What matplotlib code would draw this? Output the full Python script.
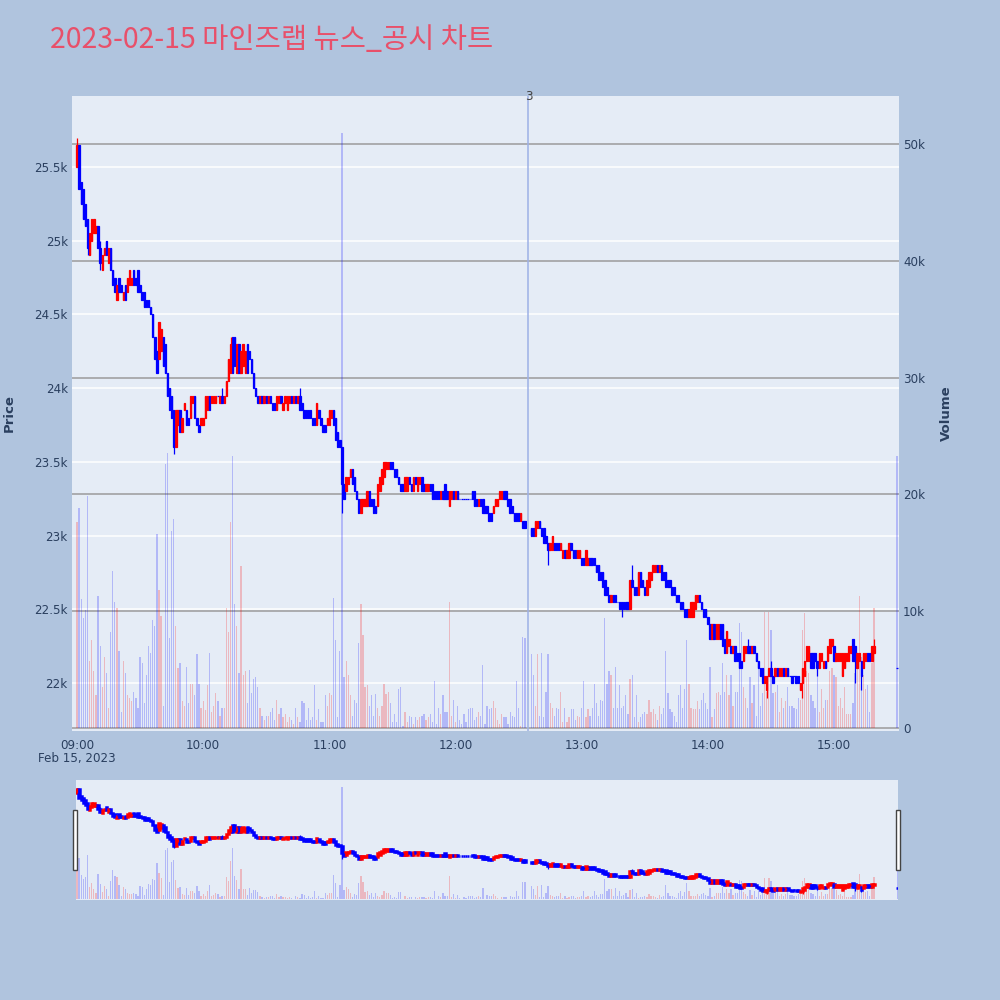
import numpy as np
import pandas as pd
import matplotlib
matplotlib.use("Agg")
import matplotlib.pyplot as plt
import matplotlib.dates as mdates
from matplotlib.patches import Rectangle
from matplotlib.transforms import blended_transform_factory

plt.rcParams["font.family"] = ["DejaVu Sans"]

title = "2023-02-15 마인즈랩 뉴스_공시 차트"
news_time = pd.Timestamp("2023-02-15 12:34:40")
news_label = "3"

# 1-minute bars, 09:00-15:19 (no trades 12:34-12:35) + closing auction 15:30
times = pd.date_range("2023-02-15 09:00", "2023-02-15 15:19", freq="min")
times = times.drop(pd.to_datetime(["2023-02-15 12:34", "2023-02-15 12:35"]))
times = times.append(pd.DatetimeIndex(["2023-02-15 15:30"]))

opens = [
    25500, 25650, 25400, 25350, 25250, 25150, 24900, 25000, 25050, 25050,  # 09:00
    25100, 24950, 24800, 24900, 25000, 24850, 24950, 24800, 24750, 24600,
    24750, 24700, 24600, 24700, 24650, 24700, 24700, 24800, 24750, 24800,
    24700, 24650, 24650, 24600, 24600, 24550, 24500, 24350, 24250, 24200,
    24250, 24350, 24300, 24100, 24000, 23950, 23850, 23600, 23750, 23850,
    23700, 23850, 23850, 23800, 23800, 23900, 23950, 23800, 23750, 23750,  # 09:50
    23750, 23800, 23850, 23950, 23900, 23900, 23900, 23950, 23900, 23950,
    23900, 23950, 24050, 24100, 24350, 24350, 24100, 24300, 24100, 24150,
    24100, 24300, 24250, 24200, 24100, 24000, 23950, 23900, 23950, 23900,
    23950, 23900, 23950, 23900, 23900, 23850, 23900, 23950, 23850, 23900,
    23850, 23900, 23950, 23900, 23950, 23900, 23950, 23900, 23850, 23850,  # 10:40
    23850, 23850, 23800, 23800, 23750, 23850, 23800, 23750, 23750, 23750,
    23750, 23800, 23850, 23800, 23700, 23650, 23600, 23350, 23300, 23350,
    23400, 23450, 23400, 23300, 23250, 23150, 23200, 23200, 23200, 23300,
    23250, 23250, 23200, 23200, 23300, 23350, 23400, 23450, 23450, 23500,
    23500, 23450, 23450, 23400, 23350, 23350, 23300, 23300, 23400, 23350,  # 11:30
    23300, 23400, 23300, 23350, 23400, 23350, 23300, 23300, 23350, 23350,
    23300, 23300, 23300, 23250, 23300, 23350, 23300, 23200, 23250, 23300,
    23250, 23300, 23250, 23250, 23250, 23250, 23250, 23250, 23300, 23300,
    23250, 23200, 23250, 23250, 23200, 23200, 23150, 23150, 23150, 23200,
    23200, 23250, 23250, 23300, 23300, 23250, 23250, 23200, 23150, 23150,  # 12:20
    23150, 23100, 23100, 23100,
    23050, 23050, 23000, 23050,                                            # 12:36
    23100, 23050, 23050, 23000, 22950, 22900, 22900, 22950, 22950, 22950,
    22900, 22850, 22900, 22850, 22850, 22950, 22900, 22900, 22850, 22850,
    22850, 22850, 22800, 22800, 22850, 22850, 22850, 22800, 22800, 22750,  # 13:00
    22750, 22700, 22650, 22600, 22550, 22600, 22600, 22550, 22550, 22550,
    22550, 22550, 22550, 22500, 22700, 22650, 22650, 22600, 22750, 22700,
    22650, 22600, 22650, 22700, 22750, 22750, 22800, 22750, 22800, 22750,
    22750, 22700, 22700, 22650, 22650, 22600, 22600, 22550, 22550, 22500,
    22500, 22450, 22450, 22450, 22500, 22550, 22600, 22550, 22500, 22500,
    22450, 22400, 22300, 22400, 22300, 22300, 22400, 22400, 22300, 22200,  # 14:00
    22250, 22250, 22200, 22250, 22200, 22200, 22150, 22150, 22200, 22250,
    22250, 22200, 22250, 22200, 22150, 22100, 22100, 22000, 21950, 22050,
    22100, 22050, 22050, 22100, 22050, 22050, 22100, 22050, 22100, 22050,
    22050, 22050, 22050, 22050, 21950, 22000, 22050, 22150, 22150, 22200,
    22200, 22200, 22150, 22100, 22150, 22100, 22150, 22150, 22200, 22250,
    22250, 22150, 22150, 22150, 22050, 22100, 22150, 22150, 22200, 22300,  # 15:00
    22250, 22100, 22150, 22150, 22100, 22150, 22200, 22200, 22150, 22200,
    22100,                                                                 # 15:30
]

closes = [
    25650, 25350, 25250, 25150, 25100, 24950, 25050, 25150, 25150, 25100,
    24950, 24850, 24900, 24950, 24900, 24950, 24800, 24700, 24650, 24700,
    24650, 24650, 24650, 24600, 24750, 24800, 24750, 24700, 24700, 24650,
    24650, 24600, 24550, 24550, 24550, 24500, 24350, 24200, 24100, 24450,
    24400, 24150, 24100, 23950, 23850, 23800, 23600, 23850, 23850, 23700,
    23800, 23900, 23750, 23750, 23950, 23950, 23800, 23750, 23700, 23800,
    23800, 23950, 23950, 23850, 23950, 23950, 23950, 23950, 23950, 23900,
    23950, 24050, 24200, 24300, 24100, 24150, 24300, 24100, 24250, 24300,
    24250, 24100, 24200, 24100, 24000, 23950, 23900, 23950, 23900, 23950,
    23900, 23950, 23900, 23850, 23850, 23950, 23950, 23900, 23900, 23950,
    23950, 23950, 23900, 23950, 23900, 23950, 23850, 23850, 23800, 23800,
    23800, 23800, 23750, 23750, 23900, 23800, 23750, 23700, 23700, 23800,
    23850, 23850, 23750, 23650, 23600, 23600, 23350, 23250, 23400, 23400,
    23450, 23350, 23300, 23250, 23150, 23250, 23250, 23250, 23300, 23200,
    23200, 23150, 23150, 23350, 23400, 23450, 23500, 23500, 23500, 23450,
    23450, 23400, 23400, 23350, 23300, 23300, 23400, 23400, 23350, 23300,
    23400, 23350, 23400, 23400, 23300, 23300, 23350, 23350, 23300, 23250,
    23250, 23250, 23250, 23300, 23250, 23250, 23250, 23300, 23300, 23250,
    23300, 23250, 23250, 23250, 23250, 23250, 23250, 23250, 23250, 23200,
    23200, 23250, 23200, 23150, 23150, 23150, 23100, 23100, 23200, 23250,
    23250, 23300, 23300, 23250, 23250, 23200, 23150, 23150, 23100, 23100,
    23100, 23150, 23050, 23050,
    23000, 23000, 23100, 23100,
    23050, 23000, 22950, 22950, 22900, 22950, 23000, 22900, 22900, 22900,
    22950, 22900, 22850, 22900, 22950, 22900, 22850, 22850, 22900, 22900,
    22800, 22800, 22900, 22850, 22800, 22800, 22800, 22750, 22700, 22700,
    22650, 22600, 22600, 22550, 22600, 22550, 22550, 22550, 22500, 22500,
    22500, 22500, 22500, 22700, 22650, 22600, 22600, 22750, 22650, 22650,
    22600, 22700, 22750, 22750, 22800, 22800, 22750, 22800, 22700, 22700,
    22650, 22650, 22650, 22600, 22600, 22550, 22550, 22500, 22500, 22450,
    22450, 22500, 22550, 22550, 22600, 22600, 22550, 22500, 22450, 22450,
    22400, 22300, 22400, 22300, 22400, 22400, 22300, 22250, 22200, 22350,
    22300, 22200, 22250, 22150, 22150, 22100, 22100, 22250, 22250, 22200,
    22200, 22250, 22200, 22150, 22100, 22050, 22000, 22050, 22050, 22100,
    22050, 22000, 22100, 22050, 22100, 22100, 22050, 22100, 22050, 22050,
    22000, 22050, 22000, 22000, 22000, 22100, 22150, 22250, 22250, 22100,
    22100, 22150, 22100, 22200, 22200, 22150, 22100, 22250, 22300, 22300,
    22150, 22200, 22200, 22200, 22200, 22200, 22200, 22250, 22250, 22150,
    22150, 22200, 22200, 22050, 22200, 22200, 22150, 22150, 22250, 22250,
    22100,
]

# volume in thousands of shares
volume_k = [
    17.6, 18.8, 11.0, 9.4, 10.1, 19.9, 5.7, 7.5, 4.9, 2.8,
    11.3, 7.0, 3.5, 6.1, 4.7, 1.7, 8.2, 13.4, 10.8, 10.3,
    6.6, 1.4, 5.7, 4.7, 2.8, 2.6, 2.3, 3.1, 2.6, 1.7,
    6.1, 5.6, 2.1, 4.5, 7.0, 6.4, 9.2, 8.7, 16.6, 11.8,
    9.6, 1.9, 22.6, 23.5, 7.7, 16.9, 17.9, 8.7, 5.1, 5.6,
    2.3, 1.9, 5.2, 2.1, 3.8, 3.8, 2.8, 6.3, 3.8, 1.7,
    2.3, 1.5, 3.7, 6.4, 1.4, 1.9, 3.0, 2.3, 1.0, 1.7,
    1.7, 10.3, 8.2, 17.6, 23.3, 10.6, 8.7, 4.7, 13.9, 4.5,
    4.9, 2.1, 5.0, 3.0, 4.2, 4.4, 3.5, 1.7, 1.0, 0.7,
    1.0, 1.0, 1.4, 1.7, 0.7, 2.4, 1.2, 1.7, 0.9, 1.2,
    0.5, 0.9, 0.7, 0.3, 1.7, 0.9, 0.5, 2.3, 2.1, 0.7,
    1.7, 0.7, 0.9, 3.7, 0.7, 1.6, 0.5, 0.5, 2.8, 1.9,
    3.0, 2.8, 11.1, 7.5, 0.9, 6.6, 50.9, 4.4, 5.7, 4.5,
    2.8, 1.0, 2.4, 2.1, 7.3, 10.6, 8.0, 3.5, 3.7, 1.9,
    2.8, 1.0, 2.9, 1.7, 1.0, 1.9, 3.8, 2.9, 3.1, 2.1,
    0.5, 1.2, 0.5, 3.3, 3.5, 0.2, 1.4, 0.5, 1.0, 0.9,
    0.3, 0.9, 0.7, 0.9, 1.0, 1.2, 0.7, 0.9, 1.2, 0.5,
    4.0, 0.3, 1.7, 1.2, 2.8, 1.4, 1.4, 10.8, 1.0, 2.4,
    0.5, 1.9, 0.7, 0.3, 1.2, 0.5, 1.6, 1.7, 1.7, 0.7,
    0.9, 1.4, 1.0, 5.4, 0.3, 1.9, 1.6, 1.7, 2.3, 1.7,
    0.7, 0.3, 1.2, 0.9, 0.9, 0.3, 1.4, 1.0, 0.9, 4.0,
    1.7, 0.2, 7.8, 7.7,
    6.3, 4.5, 1.9, 6.3,
    1.0, 6.4, 0.9, 3.1, 6.3, 2.1, 1.7, 1.0, 1.7, 1.6,
    3.1, 0.5, 1.7, 0.5, 0.9, 1.6, 1.6, 0.7, 1.0, 0.9,
    1.7, 4.0, 0.9, 1.6, 1.0, 1.7, 3.8, 2.1, 1.0, 2.4,
    2.3, 9.4, 3.8, 4.9, 4.5, 1.7, 5.2, 1.7, 3.7, 1.7,
    1.9, 2.8, 1.2, 4.2, 4.5, 0.9, 2.8, 0.5, 0.9, 1.2,
    1.4, 1.2, 2.4, 1.4, 1.6, 1.2, 0.7, 1.9, 1.2, 1.7,
    6.6, 3.0, 1.6, 1.4, 1.0, 0.5, 2.8, 3.7, 1.7, 3.3,
    7.5, 3.8, 1.7, 1.6, 1.6, 2.3, 1.6, 2.4, 3.0, 2.1,
    1.6, 5.2, 0.9, 1.6, 3.0, 3.1, 2.8, 5.6, 3.1, 4.5,
    2.8, 4.5, 1.9, 3.1, 3.1, 9.0, 8.2, 3.5, 2.6, 1.7,
    4.4, 2.1, 3.7, 1.0, 5.6, 1.9, 3.0, 9.9, 3.1, 9.9,
    8.4, 3.0, 3.1, 3.7, 1.4, 2.6, 1.7, 2.3, 3.5, 1.9,
    1.9, 1.7, 1.6, 2.6, 2.4, 8.4, 9.8, 4.9, 4.7, 2.8,
    2.3, 1.7, 4.5, 1.4, 3.3, 1.7, 2.4, 2.4, 4.9, 5.1,
    4.5, 4.4, 1.9, 2.6, 1.7, 3.5, 1.2, 1.2, 1.2, 2.1,
    4.7, 5.4, 11.3, 6.1, 4.5, 3.3, 3.7, 1.4, 5.6, 10.3,
    23.3,
]

# shadows that reach beyond the body
wick_high = {"09:00": 25700, "09:11": 25000, "09:14": 25000, "10:09": 24000,
             "10:13": 24350, "10:46": 24000, "13:24": 22800, "14:19": 22300,
             "14:30": 22150, "15:19": 22300}
wick_low = {"09:05": 24900, "09:11": 24800, "09:46": 23550, "11:06": 23150,
            "12:44": 22800, "13:19": 22450, "14:28": 21900, "14:45": 21900,
            "14:52": 22050, "15:10": 22000, "15:13": 21950}

price_ticks = [22000, 22500, 23000, 23500, 24000, 24500, 25000, 25500]
price_labels = ["22k", "22.5k", "23k", "23.5k", "24k", "24.5k", "25k", "25.5k"]
volume_ticks = [0, 10, 20, 30, 40, 50]
volume_labels = ["0", "10k", "20k", "30k", "40k", "50k"]

page_bg = "#B0C4DE"
plot_bg = "#E5ECF6"
ink = "#2a3f5f"

df = pd.DataFrame({"open": opens, "close": closes, "volume": volume_k}, index=times)
hhmm = df.index.strftime("%H:%M")
df["high"] = df[["open", "close"]].max(axis=1)
df["low"] = df[["open", "close"]].min(axis=1)
for k, v in wick_high.items():
    df.loc[hhmm == k, "high"] = v
for k, v in wick_low.items():
    df.loc[hhmm == k, "low"] = v

up = (df["close"] > df["open"]).values
candle_colors = np.where(up, "#FF0000", "#0000FF")
vol_colors = [(1, 0, 0, 0.22) if u else (0, 0, 1, 0.22) for u in up]


def draw(ax_v, ax_p, edge_lw):
    ax_v.bar(df.index, df["volume"], width=pd.Timedelta(seconds=36),
             color=vol_colors, zorder=2)
    ax_p.vlines(df.index, df["low"], df["high"], colors=candle_colors, lw=0.9)
    ax_p.bar(df.index, df["close"] - df["open"], bottom=df["open"],
             width=pd.Timedelta(seconds=40), color=candle_colors,
             edgecolor=candle_colors, linewidth=edge_lw)
    ax_p.set_ylim(21674, 25982)
    ax_v.set_ylim(-0.26, 54.1)
    for a in (ax_v, ax_p):
        for s in a.spines.values():
            s.set_visible(False)


fig = plt.figure(figsize=(10, 10), dpi=100, facecolor=page_bg)

# main chart
ax_v = fig.add_axes([0.072, 0.269, 0.827, 0.635], facecolor=plot_bg)
ax_p = ax_v.twinx()
ax_p.yaxis.tick_left()
ax_p.yaxis.set_label_position("left")
ax_v.yaxis.tick_right()

ax_v.set_axisbelow(True)
ax_v.grid(axis="y", color="#9b9b9b", lw=1.1)
ygrid = blended_transform_factory(ax_v.transAxes, ax_p.transData)
for p in price_ticks:
    ax_v.plot([0, 1], [p, p], transform=ygrid, color="white", lw=1.1, zorder=0.5)

draw(ax_v, ax_p, 0.9)
ax_v.set_xlim(pd.Timestamp("2023-02-15 08:57:37"), pd.Timestamp("2023-02-15 15:30:54"))

ax_p.set_yticks(price_ticks, price_labels)
ax_v.set_yticks(volume_ticks, volume_labels)
ax_v.xaxis.set_major_locator(mdates.HourLocator())
ax_v.xaxis.set_major_formatter(mdates.DateFormatter("%H:%M"))
for a in (ax_v, ax_p):
    a.tick_params(length=0, labelsize=8.6, labelcolor=ink, pad=3)
ax_v.tick_params(axis="x", pad=6)
ax_v.text(times[0], -0.043, "Feb 15, 2023", transform=blended_transform_factory(ax_v.transData, ax_v.transAxes),
          ha="center", va="center", fontsize=8.6, color=ink)

# news marker
ax_p.axvline(news_time, color="#9DB0E6", lw=1.1, zorder=3)
ax_p.text(news_time, 1.0, news_label, transform=blended_transform_factory(ax_p.transData, ax_p.transAxes),
          ha="center", va="center", fontsize=8.6, color="#444444")

fig.text(0.009, 0.587, "Price", rotation=90, ha="center", va="center",
         fontsize=9.5, fontweight="bold", color=ink)
fig.text(0.946, 0.587, "Volume", rotation=90, ha="center", va="center",
         fontsize=9.5, fontweight="bold", color=ink)

fig.text(0.05, 0.96, title, fontsize=20.5, color="#E8506A", va="center",
         family=["Noto Sans CJK KR", "DejaVu Sans"])

# range slider
sv = fig.add_axes([0.076, 0.100, 0.822, 0.120], facecolor=plot_bg)
sp = sv.twinx()
draw(sv, sp, 1.8)
sv.set_xlim(pd.Timestamp("2023-02-15 08:59:31"), pd.Timestamp("2023-02-15 15:30:24"))
for a in (sv, sp):
    a.set_xticks([])
    a.set_yticks([])

for hx in (0.073, 0.896):
    fig.patches.append(Rectangle((hx, 0.130), 0.004, 0.060, transform=fig.transFigure,
                                 facecolor="white", edgecolor="#444444", lw=1))

fig.savefig("out.png", dpi=100, facecolor=page_bg)
